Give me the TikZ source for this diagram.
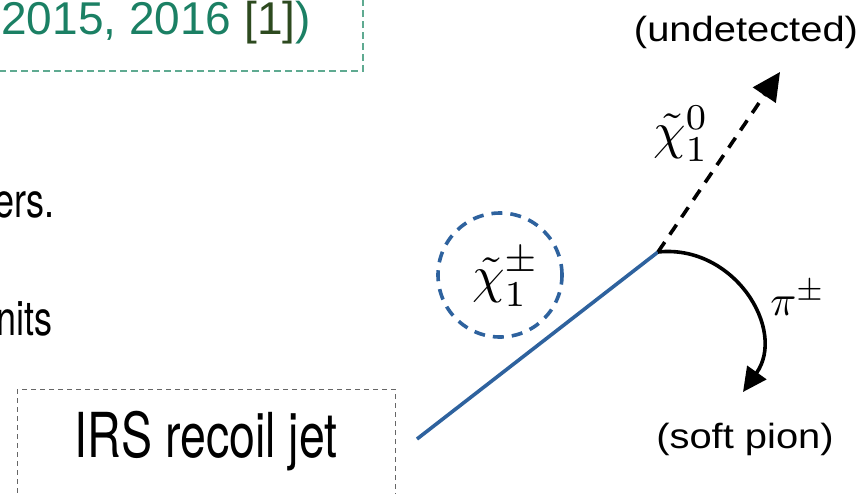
\documentclass[tikz,border=0pt]{standalone}
\usepackage[no-math]{fontspec}
\setmainfont{Liberation Sans}
\newfontfamily\slidefont{TeX Gyre Heros}
\usetikzlibrary{arrows.meta}
\definecolor{refgreen}{RGB}{27,128,100}
\definecolor{refdark}{RGB}{45,74,31}
\definecolor{refline}{RGB}{95,170,145}
\definecolor{charblue}{RGB}{46,98,158}
\begin{document}
\begin{tikzpicture}[x=1pt, y=-1pt,
    refbox/.style={draw=refline, line width=1.2pt, dash pattern=on 7pt off 4pt},
    jetbox/.style={draw=black!60, line width=1pt, dash pattern=on 5pt off 4pt},
    chargino/.style={draw=charblue, line width=3.6pt},
    charcircle/.style={circle, draw=charblue, line width=3.6pt, dash pattern=on 11pt off 8pt, minimum size=124pt, inner sep=0pt},
    neutralino/.style={line width=3.6pt, dash pattern=on 12pt off 9pt, -{Triangle[length=28pt, width=27pt]}},
    pion/.style={line width=3.6pt, -{Triangle[length=24pt, width=23pt]}},
    bigmath/.style={scale=5.2},
    tag/.style={font=\fontsize{35}{40}\selectfont, xscale=1.14}]
    \useasboundingbox (0,0) rectangle (859,493);

    % Sommets de la topologie
    \coordinate (V) at (658,252); % vertex de désintégration
    \coordinate (J) at (417,439); % début de la trace
    \coordinate (N) at (780,72);  % pointe du neutralino
    \coordinate (P) at (743,392); % pointe du pion

    % Cadres en pointillés (coupés par le bord)
    \draw[refbox] (-20,-20) rectangle (363,71);
    \draw[jetbox] (17,389) rectangle (395,520);

    % Textes de la diapositive
    \node[anchor=base east, text=refgreen, font=\fontsize{46}{50}\selectfont, inner sep=0pt] (ref) at (311,34) {2015, 2016 {\color{refdark}[1]})};
    \node[anchor=base east, font=\slidefont\fontsize{48}{52}\selectfont, inner sep=0pt, xscale=0.75] (l1) at (55,217) {ers.};
    \node[anchor=base east, font=\slidefont\fontsize{48}{52}\selectfont, inner sep=0pt, xscale=0.75] (l2) at (53,335) {nits};
    \node[anchor=base, font=\slidefont\fontsize{62}{66}\selectfont, inner sep=0pt, xscale=0.75] (jet) at (206,457) {IRS recoil jet};

    % Chargino et sa trace
    \node[charcircle] (chi) at (500,275) {};
    \node[bigmath] (chilab) at (506,277) {$\tilde{\chi}_1^{\pm}$};
    \draw[chargino] (J) -- (V);

    % Produits de désintégration
    \draw[neutralino] (V) -- (N);
    \draw[pion] (V) .. controls (734,244) and (787,330) .. (P);

    % Étiquettes
    \node[bigmath] (chi0) at (681,134) {$\tilde{\chi}_1^{0}$};
    \node[scale=4.3] (pi) at (798,298) {$\pi^{\pm}$};
    \node[tag, anchor=base] (undet) at (746,41) {(undetected)};
    \node[tag, anchor=base] (soft) at (745,448) {(soft pion)};
\end{tikzpicture}
\end{document}
